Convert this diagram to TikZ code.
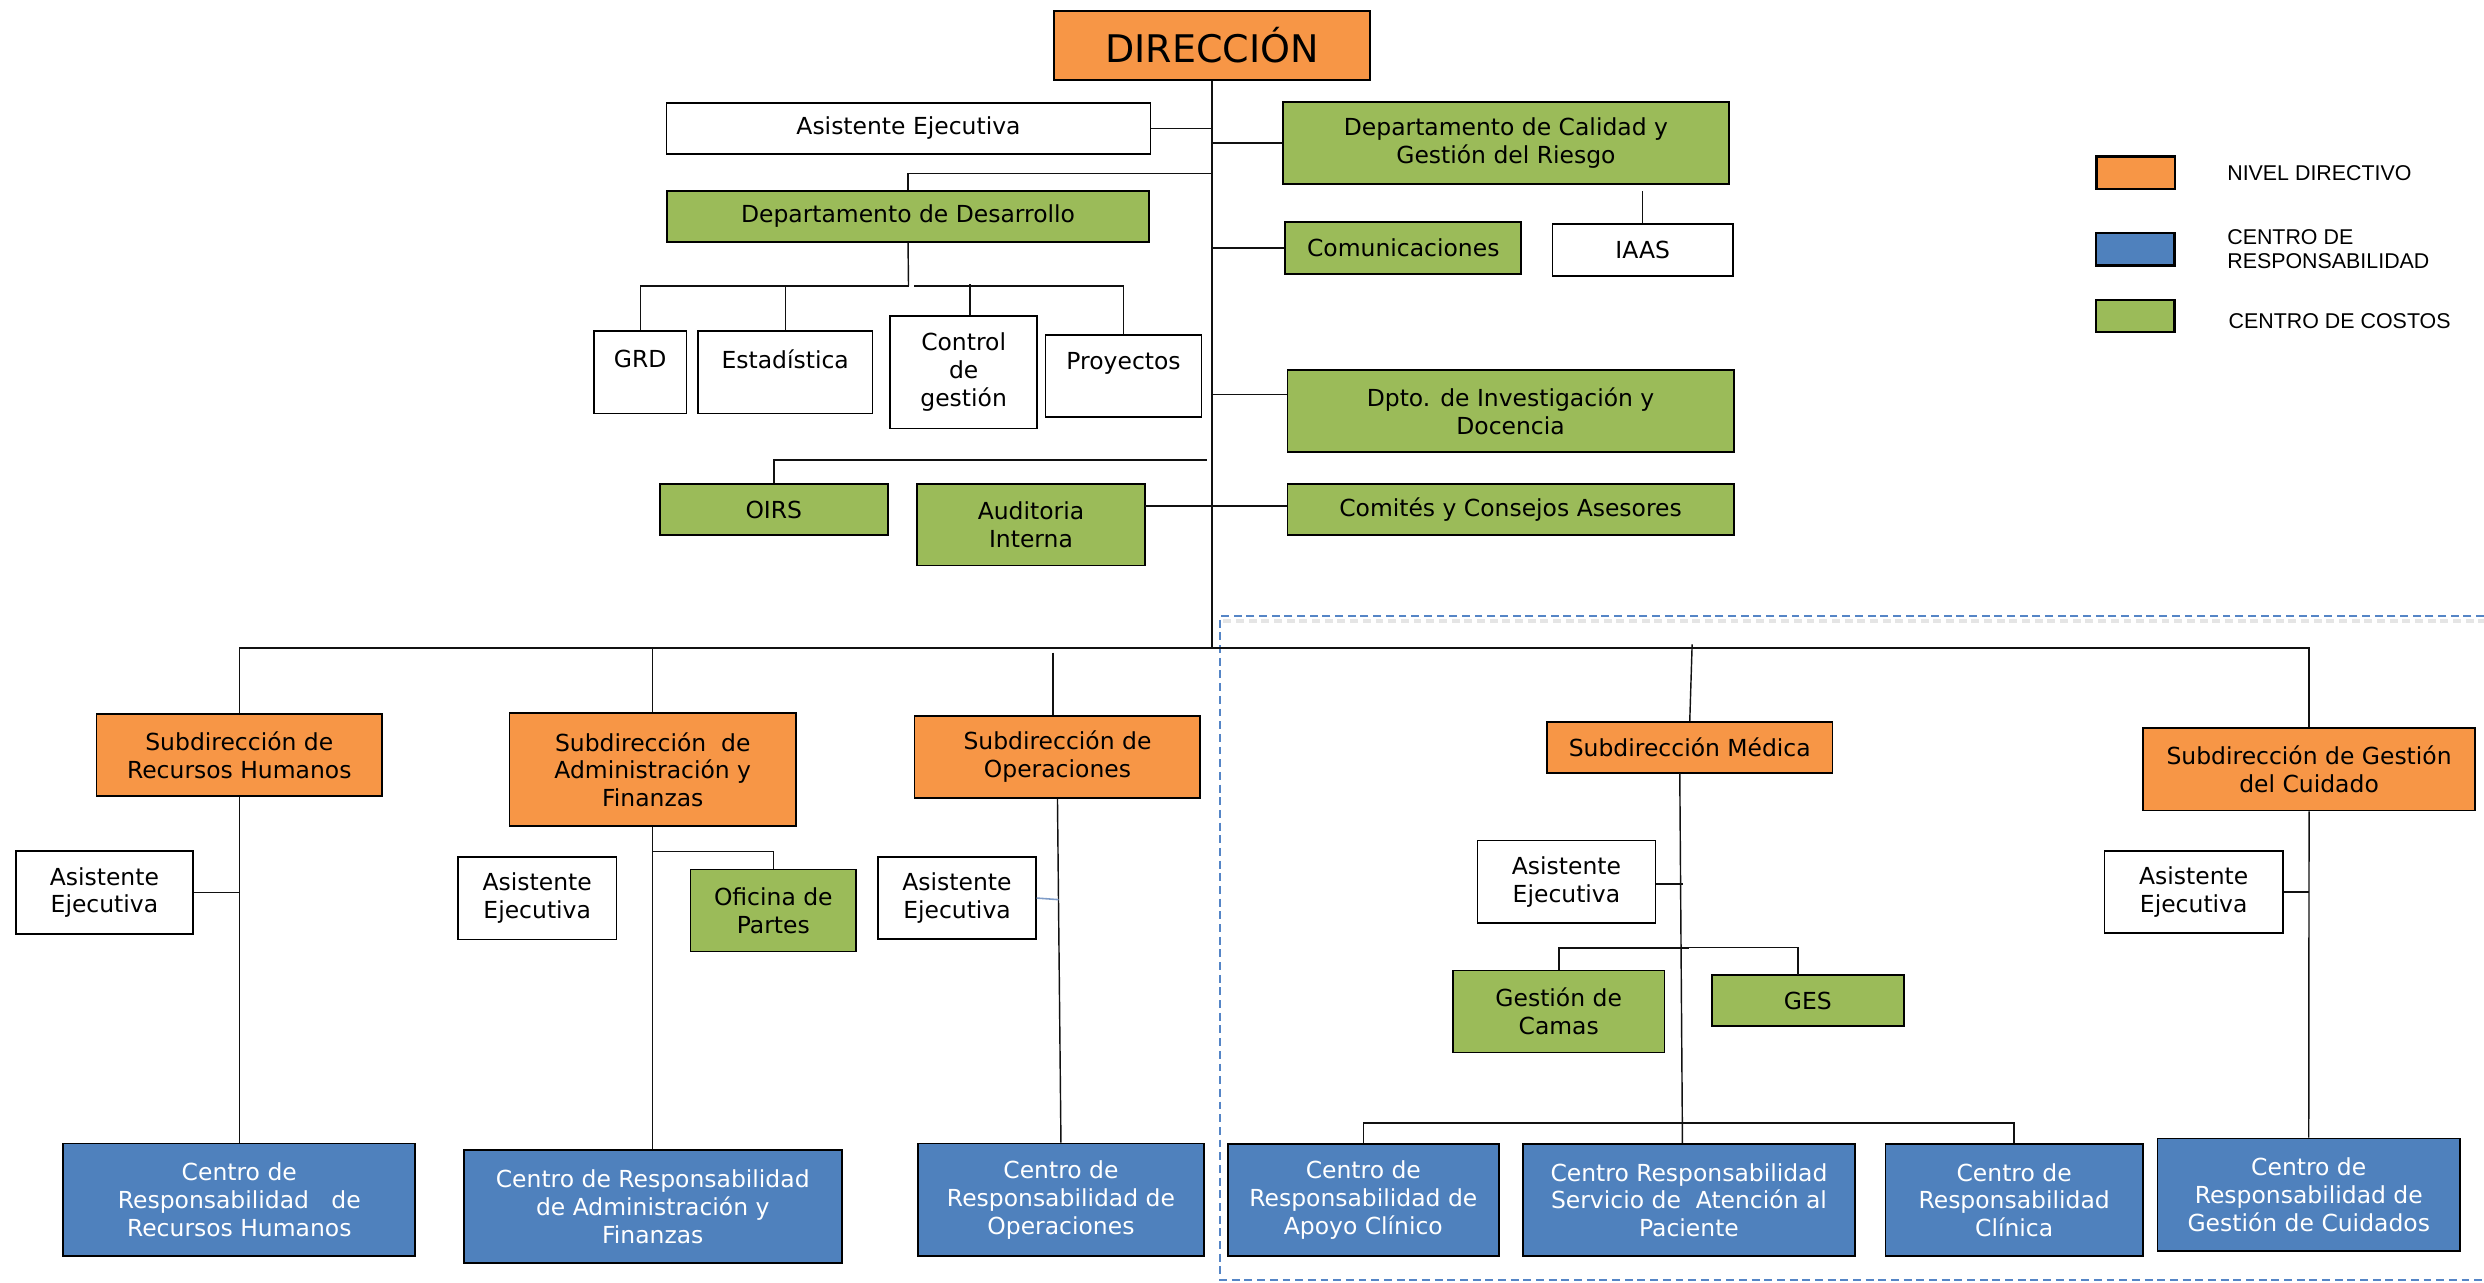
\documentclass[tikz,border=0pt]{standalone}
\usepackage{fontspec}
\setmainfont{DejaVu Sans}
\newfontfamily\legfont{Liberation Sans}
\definecolor{orgfill}{HTML}{F79646}
\definecolor{grnfill}{HTML}{9BBB59}
\definecolor{blufill}{HTML}{4F81BD}
\definecolor{dashcol}{HTML}{5585C6}
\definecolor{lncol}{HTML}{111111}
\definecolor{bluln}{HTML}{7F9CC8}
\tikzset{
  bx/.style={draw=black, line width=1.1pt, align=center, inner sep=1pt, text=black,
    font=\fontsize{14.8}{17.5}\selectfont},
  org/.style={bx, fill=orgfill},
  grn/.style={bx, fill=grnfill},
  wht/.style={bx, fill=white},
  blu/.style={bx, fill=blufill, text=white},
  sz/.style 2 args={minimum width=#1pt, minimum height=#2pt},
  ln/.style={draw=lncol, line width=0.9pt},
  legbox/.style={draw=black, line width=1.6pt, minimum width=49.5pt, minimum height=20.4pt, inner sep=0pt},
  legtxt/.style={anchor=west, align=left, inner sep=0pt, font=\legfont\fontsize{13.5}{15.1}\selectfont},
}
\begin{document}
\begin{tikzpicture}[x=1pt, y=-1pt]
\useasboundingbox (0,0) rectangle (1567.5,809);
% dashed frame
\draw[draw=black!10, line width=2.5pt, dash pattern=on 5pt off 3pt] (772,392) -- (1567.5,392);
\draw[draw=dashcol, line width=1.2pt, dash pattern=on 5pt off 3pt] (1567.5,388.9) -- (769.7,388.9) -- (769.7,807.5) -- (1567.5,807.5);

% top level
\node[org, sz={199.6}{43.3}, font=\fontsize{24}{28}\selectfont] (dir) at (764.8,28.6) {DIRECCIÓN};
\node[wht, sz={305.4}{32.2}] (asis0) at (573.3,81.1) {Asistente Ejecutiva};
\node[grn, sz={281.5}{51.8}] (cal) at (950.3,90.3) {Departamento de Calidad y\\Gestión del Riesgo};
\node[grn, sz={304}{32.2}] (des) at (573,136.5) {Departamento de Desarrollo};
\node[grn, sz={149}{33}] (com) at (885.5,156.5) {Comunicaciones};
\node[wht, sz={114}{32.6}] (iaas) at (1036.6,157.7) {IAAS};
\node[wht, sz={58.4}{52}] (grd) at (404,234.9) {\raisebox{8.3pt}[\height][\depth]{GRD}};
\node[wht, sz={110.1}{52}] (est) at (495.5,234.9) {\raisebox{8.3pt}[\height][\depth]{Estadística}};
\node[wht, sz={92.8}{71.2}] (ctl) at (608.1,234.8) {Control\\de\\gestión};
\node[wht, sz={98.5}{51.8}] (pro) at (709,237.1) {\raisebox{8pt}[\height][\depth]{Proyectos}};
\node[grn, sz={281.6}{51.8}] (inv) at (953.2,259.4) {Dpto. de Investigación y\\Docencia};
\node[grn, sz={144}{32.4}] (oirs) at (488.3,321.5) {OIRS};
\node[grn, sz={144}{51.6}] (aud) at (650.6,331.1) {Auditoria\\Interna};
\node[grn, sz={281.6}{32.4}] (comi) at (953.2,321.5) {Comités y Consejos Asesores};

% subdirecciones
\node[org, sz={180.2}{51.8}] (srh) at (151,476.6) {Subdirección de\\Recursos Humanos};
\node[org, sz={180.7}{71.1}] (sad) at (411.9,485.7) {Subdirección\ \ de\\Administración y\\Finanzas};
\node[org, sz={180.3}{52}] (sop) at (667.3,477.6) {Subdirección de\\Operaciones};
\node[org, sz={180}{32.4}] (smed) at (1066.3,471.6) {Subdirección Médica};
\node[org, sz={209.8}{51.8}] (scu) at (1457.1,485.5) {Subdirección de Gestión\\del Cuidado};

% asistentes and costos
\node[wht, sz={111.8}{52}] (arh) at (65.9,563.2) {Asistente\\Ejecutiva};
\node[wht, sz={100}{51.8}] (aad) at (339,566.9) {Asistente\\Ejecutiva};
\node[grn, sz={104.4}{51.8}] (ofi) at (488,574.5) {Oficina de\\Partes};
\node[wht, sz={99.3}{51.8}] (aop) at (603.9,566.7) {Asistente\\Ejecutiva};
\node[wht, sz={112.2}{52.2}] (ame) at (988.5,556.4) {Asistente\\Ejecutiva};
\node[wht, sz={112.6}{51.8}] (acu) at (1384.3,562.9) {Asistente\\Ejecutiva};
\node[grn, sz={133.4}{51.7}] (cam) at (983.6,638.3) {Gestión de\\Camas};
\node[grn, sz={120.9}{32.3}] (ges) at (1140.8,631.5) {GES};

% centros de responsabilidad
\node[blu, sz={222.2}{71.1}] (crh) at (151,757.2) {Centro de\\Responsabilidad\ \ \ de\\Recursos Humanos};
\node[blu, sz={238.6}{71.3}] (cad) at (411.9,761.5) {Centro de Responsabilidad\\de Administración y\\Finanzas};
\node[blu, sz={180.8}{71.1}] (cop) at (669.5,757.2) {Centro de\\Responsabilidad de\\Operaciones};
\node[blu, sz={171.1}{70.9}] (cap) at (860.3,757.3) {Centro de\\Responsabilidad de\\Apoyo Clínico};
\node[blu, sz={209.9}{70.9}] (cat) at (1065.8,757.3) {Centro Responsabilidad\\Servicio de\ \ Atención al\\Paciente};
\node[blu, sz={162.3}{70.9}] (ccl) at (1271,757.3) {Centro de\\Responsabilidad\\Clínica};
\node[blu, sz={190.8}{71.2}] (ccu) at (1456.9,754) {Centro de\\Responsabilidad de\\Gestión de Cuidados};

% legend
\node[legbox, fill=orgfill] (lg1) at (1347.8,109.1) {};
\node[legbox, fill=blufill] (lg2) at (1347.5,157.2) {};
\node[legbox, fill=grnfill] (lg3) at (1347.5,199.4) {};
\node[legtxt] (lt1) at (1405.3,109.5) {NIVEL DIRECTIVO};
\node[legtxt] (lt2) at (1405.3,157.5) {CENTRO DE\\RESPONSABILIDAD};
\node[legtxt] (lt3) at (1406.2,202.5) {CENTRO DE COSTOS};

% junction coordinates
\coordinate (bar) at (764.8,408.9);
\coordinate (jdes) at (764.8,109.6);
\coordinate (jiaas) at (1036.6,120.4);
\coordinate (jd) at (573.3,180.5);
\coordinate (jd2) at (577,180.5);
\coordinate (jctl) at (612,179.5);
\coordinate (jinv) at (764.8,249);
\coordinate (joirs) at (761.7,290.2);
\coordinate (jaud) at (722.6,319.4);
\coordinate (jsop) at (664.5,411.8);
\coordinate (jmed) at (1067.8,406.6);
\coordinate (jofi) at (411.9,537.4);
\coordinate (jaop) at (668,567.7);
\coordinate (jmtop) at (1060,487.8);
\coordinate (jcr) at (1061.6,708.7);
\coordinate (jame) at (1062,557.9);
\coordinate (jcg) at (1065.8,598);
\coordinate (jges) at (1134.5,615.3);

% connectors top
\draw[ln] (dir.south) -- (bar);
\draw[ln] (asis0.east) -- (asis0.east -| dir.south);
\draw[ln] (cal.west -| dir.south) -- (cal.west);
\draw[ln] (des.north) |- (jdes);
\draw[ln] (com.west -| dir.south) -- (com.west);
\draw[ln] (iaas.north) -- (jiaas);
\draw[ln] (des.south) -- (jd);
\draw[ln] (grd.north) |- (jd);
\draw[ln] (est.north) -- (est.north |- jd);
\draw[ln] (jd2) -| (pro.north);
\draw[ln] (jctl) -- (jctl |- ctl.north);
\draw[ln] (jinv) -- (jinv -| inv.west);
\draw[ln] (oirs.north) |- (joirs);
\draw[ln] (jaud) -- (jaud -| comi.west);

% main bar
\draw[ln] (srh.north) |- (bar) -| (scu.north);
\draw[ln] (sad.north) -- (sad.north |- bar);
\draw[ln] (jsop) -- (jsop |- sop.north);
\draw[ln] (jmed) -- (smed.north);

% subdirection branches
\draw[ln] (srh.south) -- (crh.north);
\draw[ln] (arh.east) -- (arh.east -| srh.south);
\draw[ln] (sad.south) -- (cad.north);
\draw[ln] (jofi) -| (ofi.north);
\draw[ln] (sop.south) -- (cop.north);
\draw[draw=bluln, line width=1pt] (aop.east) -- (jaop);
\draw[ln] (jmtop) -- (jcr) -- (jcr |- cat.north);
\draw[ln] (ame.east |- jame) -- (jame);
\draw[ln, line width=1.1pt] (cam.north) |- (jcg);
\draw[ln] (jcg) -| (jges);
\draw[ln] (cap.north) |- (jcr) -| (ccl.north);
\draw[ln] (acu.east) -- (acu.east -| scu.south);
\draw[ln] (scu.south) -- (ccu.north);
\end{tikzpicture}
\end{document}
